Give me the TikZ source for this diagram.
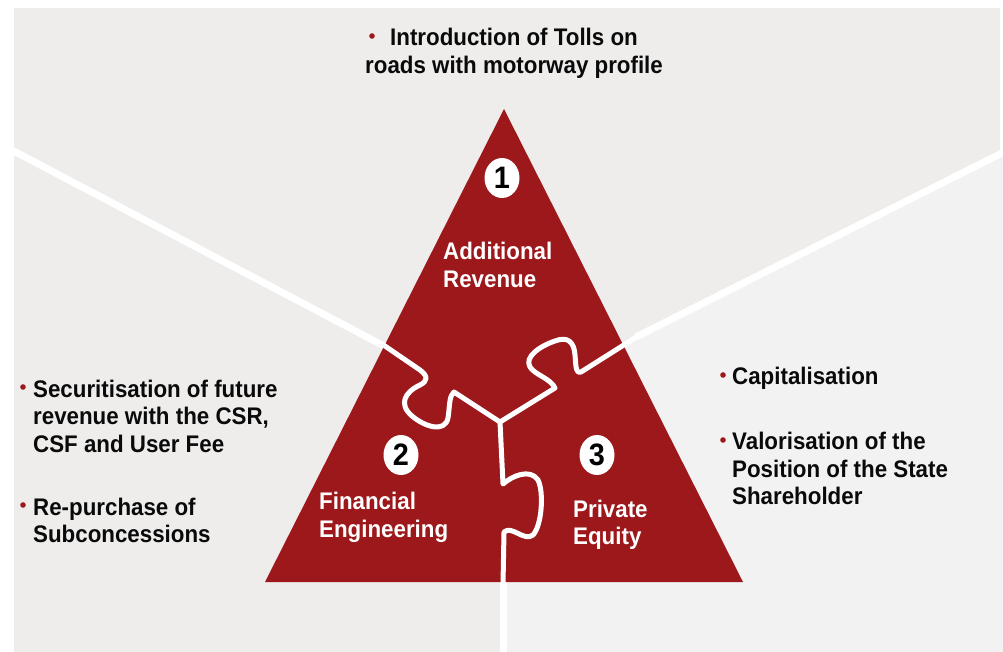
\documentclass[tikz,border=0pt]{standalone}
\usepackage{fontspec}
\setmainfont{Liberation Sans}
\newfontfamily\labfont{Liberation Sans}[FakeStretch=0.93]
\usetikzlibrary{shapes.geometric}
\definecolor{panelgray}{HTML}{EEEDEC}
\definecolor{panellight}{HTML}{F2F2F2}
\definecolor{brandred}{HTML}{9C181B}
\definecolor{inkblack}{HTML}{0A0A0A}
\begin{document}
\begin{tikzpicture}[x=1pt,y=-1pt,
  % multi-line nodes are anchored at the baseline of their last line
  bodytext/.style={anchor=base west, inner sep=0pt, align=left, text=inkblack,
    font=\labfont\bfseries\fontsize{24}{27.5}\selectfont},
  piecetext/.style={bodytext, text=white},
  numbadge/.style={ellipse, fill=white, minimum width=35pt, minimum height=40pt,
    inner sep=0pt, text=black, font=\labfont\bfseries\fontsize{31}{31}\selectfont},
  divider/.style={white, line width=7pt},
  cut/.style={white, line width=5pt, line join=round, line cap=butt},
  bulletdot/.style={fill=brandred}]

\useasboundingbox (0,0) rectangle (1003,652);

% background panels
\fill[panelgray] (14,8) rectangle (1000,652);
\fill[panellight] (503,420) -- (640,336) -- (1003,150) -- (1003,652) -- (503,652) -- cycle;

% dividers between the three panels
\coordinate (ldiv) at (8,148);
\coordinate (ltri) at (384,346);
\coordinate (rdiv) at (1010,149);
\coordinate (rtri) at (636,337);
\coordinate (bdiv) at (503,656);
\coordinate (btri) at (503,578);
\draw[divider] (ldiv) -- (ltri);
\draw[divider] (rdiv) -- (rtri);
\draw[divider] (btri) -- (bdiv);

% the triangle
\coordinate (apex) at (504,109);
\coordinate (bl) at (265,582);
\coordinate (br) at (743,582);
\fill[brandred] (apex) -- (bl) -- (br) -- cycle;

% puzzle cuts
\coordinate (hub) at (500,422);
\draw[cut] (382,344) -- (420,370)
  .. controls (428,376) and (428,381) .. (420,385)
  .. controls (405,392) and (398,404) .. (412,416)
  .. controls (425,427) and (445,433) .. (448,418)
  .. controls (450,405) and (449,396) .. (454,392) -- (hub);
\draw[cut] (hub) -- (555,388)
  .. controls (550,378) and (535,375) .. (530,367)
  .. controls (524,357) and (540,346) .. (555,341)
  .. controls (568,336) and (574,342) .. (575,355)
  .. controls (576,368) and (576,374) .. (581,372) -- (638,336);
\draw[cut] (hub) -- (503,484)
  .. controls (512,476) and (530,468) .. (538,480)
  .. controls (544,492) and (542,525) .. (533,535)
  .. controls (524,542) and (512,525) .. (504,532) -- (503,584);

% numbered badges
\node[numbadge] (n1) at (502,178) {1};
\node[numbadge] (n2) at (401,455) {2};
\node[numbadge] (n3) at (597,455) {3};

% labels of the pieces
\node[piecetext] (p1) at (443,287.1) {Additional\\Revenue};
\node[piecetext] (p2) at (319,537) {Financial\\Engineering};
\node[piecetext] (p3) at (573,544.5) {Private\\Equity};

% top panel
\fill[bulletdot] (372,36) circle[radius=2.8pt];
\node[bodytext] (toptext) at (365,73.5) {\hspace*{25pt}Introduction of Tolls on\\roads with motorway profile};

% left panel
\fill[bulletdot] (23,387) circle[radius=2.8pt];
\node[bodytext] (l1) at (33,452) {Securitisation of future\\revenue with the CSR,\\CSF and User Fee};
\fill[bulletdot] (23,505) circle[radius=2.8pt];
\node[bodytext] (l2) at (33,542.5) {Re-purchase of\\Subconcessions};

% right panel
\fill[bulletdot] (723,375) circle[radius=2.8pt];
\node[bodytext] (r1) at (732,384.5) {Capitalisation};
\fill[bulletdot] (723,440) circle[radius=2.8pt];
\node[bodytext] (r2) at (732,504.5) {Valorisation of the\\Position of the State\\Shareholder};

\end{tikzpicture}
\end{document}
